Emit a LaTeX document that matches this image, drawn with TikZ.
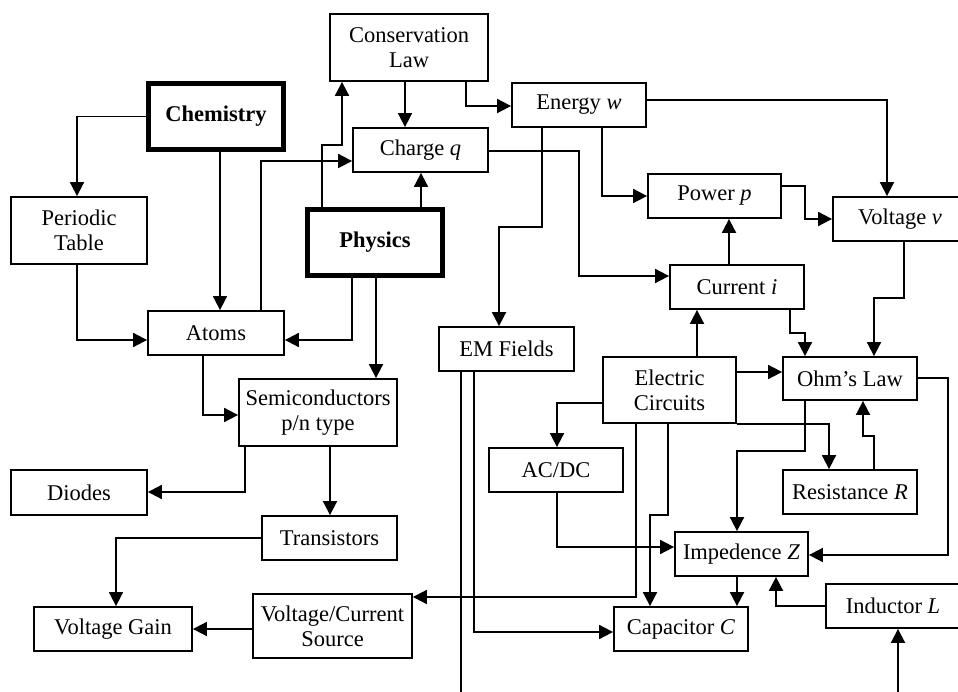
\documentclass[tikz,border=0pt]{standalone}
\usepackage{fontspec}
\setmainfont{Liberation Serif}
\usetikzlibrary{arrows.meta}
\tikzset{
  box/.style={draw, line width=1.8pt, fill=white, inner sep=0pt, align=center,
    font=\fontsize{22.5}{25}\selectfont},
  thickbox/.style={box, line width=5pt},
  arr/.style={line width=1.8pt, -{Triangle[length=14pt,width=14pt]}},
  ln/.style={line width=1.8pt},
}
\begin{document}
\begin{tikzpicture}[x=1pt,y=-1pt]
\useasboundingbox (0,0) rectangle (958,692);
\clip (0,0) rectangle (958,692);
\fill[white] (0,0) rectangle (958,692);
% nodes
\node[box, minimum width=158pt, minimum height=67pt] (cons) at (409,47.5) {Conservation\\Law};
\node[thickbox, minimum width=135pt, minimum height=66pt] (chem) at (216,116.5) {\textbf{Chemistry}};
\node[box, minimum width=135pt, minimum height=44pt] (charge) at (420.5,150) {Charge \textit{q}};
\node[box, minimum width=134pt, minimum height=44pt] (energy) at (579,105) {Energy \textit{w}};
\node[box, minimum width=136pt, minimum height=67pt] (period) at (79,230.5) {Periodic\\Table};
\node[thickbox, minimum width=135pt, minimum height=66pt] (phys) at (375,242.5) {\textbf{Physics}};
\node[box, minimum width=133pt, minimum height=44pt] (power) at (714.5,196) {Power \textit{p}};
\node[box, minimum width=134pt, minimum height=44pt] (voltv) at (900,219) {Voltage \textit{v}};
\node[box, minimum width=134pt, minimum height=44pt] (current) at (737,287) {Current \textit{i}};
\node[box, minimum width=136pt, minimum height=44pt] (atoms) at (216,333) {Atoms};
\node[box, minimum width=135pt, minimum height=44pt] (em) at (506.5,349) {EM Fields};
\node[box, minimum width=133pt, minimum height=66pt] (ec) at (669.5,390) {Electric\\Circuits};
\node[box, minimum width=134pt, minimum height=43pt] (ohm) at (850,378.5) {Ohm’s Law};
\node[box, minimum width=158pt, minimum height=67pt] (semi) at (318,412.5) {Semiconductors\\p/n type};
\node[box, minimum width=134pt, minimum height=44pt] (acdc) at (556,470) {AC/DC};
\node[box, minimum width=136pt, minimum height=45pt] (diodes) at (79,492.5) {Diodes};
\node[box, minimum width=134pt, minimum height=44pt] (res) at (850,492) {Resistance \textit{R}};
\node[box, minimum width=135pt, minimum height=44pt] (trans) at (329.5,538) {Transistors};
\node[box, minimum width=133pt, minimum height=44pt] (imp) at (741.5,554) {Impedence \textit{Z}};
\node[box, minimum width=134pt, minimum height=44pt] (induct) at (893,606) {Inductor \textit{L}};
\node[box, minimum width=158pt, minimum height=44pt] (vgain) at (113,629) {Voltage Gain};
\node[box, minimum width=159pt, minimum height=64pt] (vcs) at (332.5,626) {Voltage/Current\\Source};
\node[box, minimum width=134pt, minimum height=44pt] (cap) at (681,629) {Capacitor \textit{C}};
\coordinate (bot1) at (898,700);
\coordinate (bot2) at (461,700);
% connectors
\draw[arr] (chem.west) -| (period.north -| 77,0);
\draw[arr] (chem.south -| 220,0) -- (atoms.north -| 220,0);
\draw[arr] (period.south -| 77,0) |- (atoms.west |- 0,340);
\draw[arr] (atoms.north -| 261,0) |- (charge.west |- 0,161);
\draw[arr] (phys.north -| 322,0) |- (342,145) -- (cons.south -| 342,0);
\draw[arr] (phys.north -| 421,0) -- (charge.south -| 421,0);
\draw[arr] (cons.south -| 405,0) -- (charge.north -| 405,0);
\draw[arr] (cons.south -| 466,0) |- (energy.west |- 0,106);
\draw[arr] (phys.south -| 352,0) |- (atoms.east |- 0,340);
\draw[arr] (phys.south -| 376,0) -- (semi.north -| 376,0);
\draw[arr] (atoms.south -| 203,0) |- (semi.west |- 0,415);
\draw[arr] (semi.south -| 245,0) |- (diodes.east |- 0,492);
\draw[arr] (semi.south -| 330,0) -- (trans.north -| 330,0);
\draw[arr] (trans.west) -| (vgain.north -| 116,0);
\draw[arr] (vcs.west |- 0,629) -- (vgain.east |- 0,629);
\draw[arr] (energy.south -| 542,0) |- (499,227) -- (em.north -| 499,0);
\draw[arr] (energy.south -| 602,0) |- (power.west);
\draw[arr] (energy.east |- 0,100) -| (voltv.north -| 887,0);
\draw[arr] (charge.east |- 0,151) -| (579,276) -- (current.west |- 0,276);
\draw[arr] (power.east |- 0,186) -| (805,219) -- (voltv.west |- 0,219);
\draw[arr] (current.north -| 729,0) -- (power.south -| 729,0);
\draw[arr] (voltv.south -| 904,0) |- (874,298) -- (ohm.north -| 874,0);
\draw[arr] (current.south -| 790,0) |- (805,333) -- (ohm.north -| 805,0);
\draw[arr] (ec.north -| 697,0) -- (current.south -| 697,0);
\draw[arr] (ec.east |- 0,372) -- (ohm.west |- 0,372);
\draw[arr] (ec.west |- 0,403) -| (acdc.north -| 557,0);
\draw[arr] (ec.south east) -| (res.north -| 829,0);
\draw[arr] (res.north -| 874,0) |- (863,436) -- (ohm.south -| 863,0);
\draw[arr] (ohm.south -| 805,0) |- (737,451) -- (imp.north -| 737,0);
\draw[arr] (ohm.east |- 0,378) -| (948,555) -- (imp.east |- 0,555);
\draw[arr] (acdc.south -| 557,0) |- (imp.west |- 0,547);
\draw[arr] (ec.south -| 668,0) |- (650,515) -- (cap.north -| 650,0);
\draw[arr] (ec.south -| 636,0) |- (vcs.east |- 0,597);
\draw[arr] (imp.south -| 737,0) -- (cap.north -| 737,0);
\draw[arr] (induct.west) -| (imp.south -| 776,0);
\draw[arr] (bot1) -- (induct.south -| 898,0);
\draw[arr] (em.south -| 474,0) |- (cap.west |- 0,632);
\draw[ln] (em.south -| 461,0) -- (bot2);
\end{tikzpicture}
\end{document}
